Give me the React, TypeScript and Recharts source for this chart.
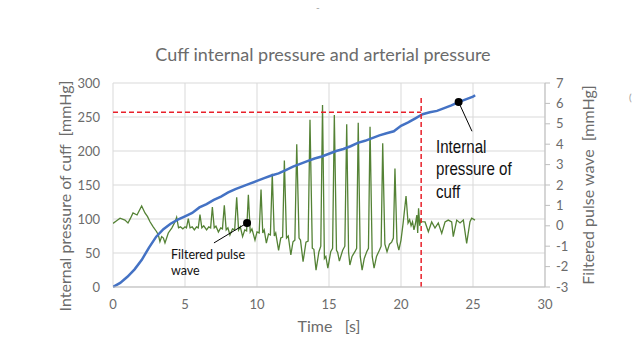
import React from 'react';
import {
  ComposedChart,
  Line,
  XAxis,
  YAxis,
  CartesianGrid,
  ReferenceLine,
  ReferenceDot,
} from 'recharts';

// ---- data ----
const cuffTime = [0, 0.5, 1, 1.5, 2, 2.5, 3, 3.5, 4, 4.5, 5, 5.5, 6, 6.5, 7, 7.5, 8, 8.5, 9, 9.5, 10, 10.5, 11, 11.5, 12, 12.5, 13, 13.5, 14, 14.5, 15, 15.5, 16, 16.5, 17, 17.5, 18, 18.5, 19, 19.5, 20, 20.5, 21, 21.5, 22, 22.5, 23, 23.5, 24, 24.5, 25, 25.15];
const cuffPressure = [0, 6, 15, 26, 40, 58, 74, 85, 93, 99, 104, 109, 117, 122, 128, 133, 139, 144, 148, 152, 156, 160, 164, 167, 172, 177, 181, 185, 189, 192, 196, 200, 203, 207, 212, 215, 219, 223, 226, 229, 237, 242, 248, 254, 257, 259, 263, 267, 272, 276, 280, 282];

const pulseTime = [
  0.0, 0.25, 0.49, 0.83, 1.04, 1.2, 1.39, 1.67, 1.99, 2.22, 2.4, 2.57, 2.78, 3.03, 3.15, 3.26, 3.38, 3.5, 3.61, 3.84, 4.08, 4.31,
  4.42, 4.55, 4.68, 4.85, 5.0, 5.1,
  5.23, 5.35, 5.5, 5.65, 5.8, 5.92,
  6.04, 6.17, 6.3, 6.5, 6.65, 6.78,
  6.9, 7.03, 7.15, 7.32, 7.48, 7.6,
  7.73, 7.86, 7.98, 8.12, 8.3, 8.45,
  8.59, 8.72, 8.84, 9.0, 9.15, 9.28,
  9.4, 9.53, 9.65, 9.86, 10.0, 10.15,
  10.28, 10.4, 10.5, 10.65, 10.8, 10.93,
  11.06, 11.2, 11.3, 11.5, 11.65, 11.78,
  11.9, 12.05, 12.17, 12.35, 12.5, 12.63,
  12.76, 12.92, 13.02, 13.2, 13.4, 13.55,
  13.68, 13.84, 13.95, 14.1, 14.3, 14.43,
  14.55, 14.68, 14.78, 14.92, 15.12, 15.25,
  15.37, 15.52, 15.6, 15.72, 15.95, 16.1,
  16.23, 16.36, 16.45, 16.6, 16.8, 16.92,
  17.03, 17.17, 17.3, 17.45, 17.62, 17.74,
  17.85, 18.0, 18.13, 18.3, 18.5, 18.62,
  18.73, 18.88, 19.03, 19.2, 19.35, 19.47,
  19.58, 19.72, 19.85, 20.0, 20.15,
  20.35, 20.49, 20.6, 20.7, 20.8, 20.9, 21.0, 21.1, 21.16,
  21.22, 21.3, 21.38, 21.44, 21.67, 21.9, 22.13, 22.36, 22.59, 22.83, 23.06, 23.28, 23.52, 23.63, 23.87, 24.1, 24.33, 24.56, 24.79, 24.91, 25.14,
];
const pulseValue = [
  0.12, 0.25, 0.37, 0.28, 0.14, 0.35, 0.63, 0.53, 0.97, 0.63, 0.45, 0.2, -0.04, -0.29, -0.45, -0.78, -0.53, -0.6, -0.84, -0.35, -0.11, 0.2,
  0.42, -0.1, -0.05, -0.15, -0.05, -0.1,
  0.35, -0.1, -0.05, -0.2, -0.05, -0.1,
  0.55, -0.1, 0.0, -0.2, -0.05, -0.1,
  0.92, -0.1, -0.02, -0.3, -0.1, -0.15,
  1.0, -0.2, -0.1, -0.45, -0.15, -0.2,
  1.4, -0.2, -0.05, -0.53, -0.2, -0.25,
  1.52, -0.3, -0.15, -0.7, -0.3, -0.35,
  1.78, -0.35, -0.2, -0.85, -0.4, -0.45,
  2.55, -0.5, -0.35, -1.2, -0.6, -0.55,
  3.2, -0.6, -0.5, -1.43, -0.78, -0.7,
  4.0, -0.6, -0.7, -1.76, -0.8, -0.75,
  5.2, -1.1, -1.15, -2.17, -1.27, -1.0,
  5.92, -1.6, -1.5, -2.08, -1.27, -1.1,
  5.43, -1.2, -1.3, -1.73, -1.2, -1.0,
  4.98, -1.3, -1.92, -1.5, -1.27, -1.1,
  5.05, -1.5, -2.17, -1.6, -1.27, -1.1,
  4.86, -1.5, -2.08, -1.5, -1.2, -1.0,
  4.04, -0.9, -1.27, -0.9, -0.8, -0.6,
  2.81, -0.8, -1.19, -0.7, 0.14,
  1.46, 0.14, 0.3, 0.0, 0.2, -0.2, 0.1, 0.53, -0.35,
  0.86, 0.0, 0.28, 0.2, 0.19, -0.29, 0.19, -0.11, 0.14, -0.37, 0.19, 0.28, 0.19, -0.53, 0.28, 0.14, 0.28, -0.86, 0.2, 0.37, 0.28,
];

const xTicks = [0, 5, 10, 15, 20, 25, 30];
const leftTicks = [0, 50, 100, 150, 200, 250, 300];
const rightTicks = [-3, -2, -1, 0, 1, 2, 3, 4, 5, 6, 7];

const thresholdPressure = 257;
const thresholdTime = 21.4;
const thresholdTop = 281;

const cuffMarker = { t: 24.0, p: 272 };
const cuffPointerEnd = { t: 24.93, p: 229 };
const pulseMarker = { t: 9.31, v: 0.14 };
const pulsePointerEnd = { t: 7.01, v: -0.84 };

const cuffData = cuffTime.map((t, i) => ({ t, p: cuffPressure[i] }));
const pulseData = pulseTime.map((t, i) => ({ t, v: pulseValue[i] }));

const FONT = 'Lato, "Open Sans", sans-serif';
const GRAY = '#6b6b6b';

export default function App() {
  const W = 635;
  const H = 359;
  return (
    <div style={{ position: 'absolute', left: 0, top: 0, width: W, height: H, background: '#fff' }}>
      <ComposedChart
        width={W}
        height={H}
        margin={{ top: 83, right: 0, bottom: 0, left: 0 }}
        style={{ position: 'absolute', left: 0, top: 0 }}
      >
        <CartesianGrid yAxisId="left" stroke="#d9d9d9" strokeWidth={1} />
        <XAxis
          dataKey="t"
          type="number"
          domain={[0, 30]}
          ticks={xTicks}
          interval={0}
          height={72}
          tickLine={false}
          tickSize={0}
          tickMargin={13}
          axisLine={{ stroke: '#bfbfbf' }}
          tick={{ fill: GRAY, fontSize: 13, fontFamily: FONT }}
          allowDataOverflow
        />
        <YAxis
          yAxisId="left"
          orientation="left"
          type="number"
          domain={[0, 300]}
          ticks={leftTicks}
          interval={0}
          width={113}
          tickLine={false}
          tickSize={0}
          tickMargin={13}
          axisLine={false}
          tick={{ fill: GRAY, fontSize: 13, fontFamily: FONT }}
        />
        <YAxis
          yAxisId="right"
          orientation="right"
          type="number"
          domain={[-3, 7]}
          ticks={rightTicks}
          interval={0}
          width={90}
          tickLine={{ stroke: '#bfbfbf' }}
          tickSize={5}
          tickMargin={6}
          axisLine={{ stroke: '#bfbfbf' }}
          tick={{ fill: GRAY, fontSize: 13, fontFamily: FONT, textAnchor: 'start' }}
        />
        <Line
          data={pulseData}
          dataKey="v"
          yAxisId="right"
          type="linear"
          stroke="#548235"
          strokeWidth={1.3}
          dot={false}
          isAnimationActive={false}
        />
        <Line
          data={cuffData}
          dataKey="p"
          yAxisId="left"
          type="linear"
          stroke="#4472c4"
          strokeWidth={2.5}
          dot={false}
          isAnimationActive={false}
        />
        <ReferenceLine
          yAxisId="left"
          segment={[{ x: 0, y: thresholdPressure }, { x: thresholdTime, y: thresholdPressure }]}
          stroke="#e8202a"
          strokeWidth={1.5}
          strokeDasharray="5 3"
        />
        <ReferenceLine
          yAxisId="left"
          segment={[{ x: thresholdTime, y: 0 }, { x: thresholdTime, y: thresholdTop }]}
          stroke="#e8202a"
          strokeWidth={1.5}
          strokeDasharray="5 3"
        />
        <ReferenceLine
          yAxisId="left"
          segment={[{ x: cuffMarker.t, y: cuffMarker.p }, { x: cuffPointerEnd.t, y: cuffPointerEnd.p }]}
          stroke="#000"
          strokeWidth={1}
        />
        <ReferenceDot yAxisId="left" x={cuffMarker.t} y={cuffMarker.p} r={4} fill="#000" stroke="none" />
        <ReferenceLine
          yAxisId="right"
          segment={[{ x: pulseMarker.t, y: pulseMarker.v }, { x: pulsePointerEnd.t, y: pulsePointerEnd.v }]}
          stroke="#000"
          strokeWidth={1}
        />
        <ReferenceDot yAxisId="right" x={pulseMarker.t} y={pulseMarker.v} r={4} fill="#000" stroke="none" />
      </ComposedChart>
      <svg
        width={W}
        height={H}
        style={{ position: 'absolute', left: 0, top: 0, pointerEvents: 'none' }}
      >
        <text x={316} y={11} fill="#9a9a9a" fontSize={10} fontFamily={FONT}>-</text>
        <text x={629} y={101} fill="#9a9a9a" fontSize={10} fontFamily={FONT}>(</text>
        <text x={323} y={61} textAnchor="middle" fill={GRAY} fontSize={18} fontFamily={FONT}>
          Cuff internal pressure and arterial pressure
        </text>
        <text
          x={64}
          y={196}
          transform="rotate(-90 64 196)"
          textAnchor="middle"
          dominantBaseline="central"
          fill={GRAY}
          fontSize={16}
          fontFamily={FONT}
          style={{ whiteSpace: 'pre' }}
        >
          {'Internal pressure of cuff  [mmHg]'}
        </text>
        <text
          x={587}
          y={185}
          transform="rotate(-90 587 185)"
          textAnchor="middle"
          dominantBaseline="central"
          fill={GRAY}
          fontSize={16}
          fontFamily={FONT}
          style={{ whiteSpace: 'pre' }}
        >
          {'Filtered pulse wave  [mmHg]'}
        </text>
        <text x={329} y={332} textAnchor="middle" fill={GRAY} fontSize={16} fontFamily={FONT} style={{ whiteSpace: 'pre' }}>
          {'Time   [s]'}
        </text>
        <g
          transform="translate(436 0) scale(0.84 1)"
          fill="#111"
          fontSize={18}
          fontFamily={'"Liberation Sans", Arial, sans-serif'}
        >
          <text x={0} y={153}>Internal</text>
          <text x={0} y={175}>pressure of</text>
          <text x={0} y={198}>cuff</text>
        </g>
        <g fill="#111" fontSize={12.5} fontFamily={FONT}>
          <text x={171} y={259}>Filtered pulse</text>
          <text x={171} y={275}>wave</text>
        </g>
      </svg>
    </div>
  );
}
